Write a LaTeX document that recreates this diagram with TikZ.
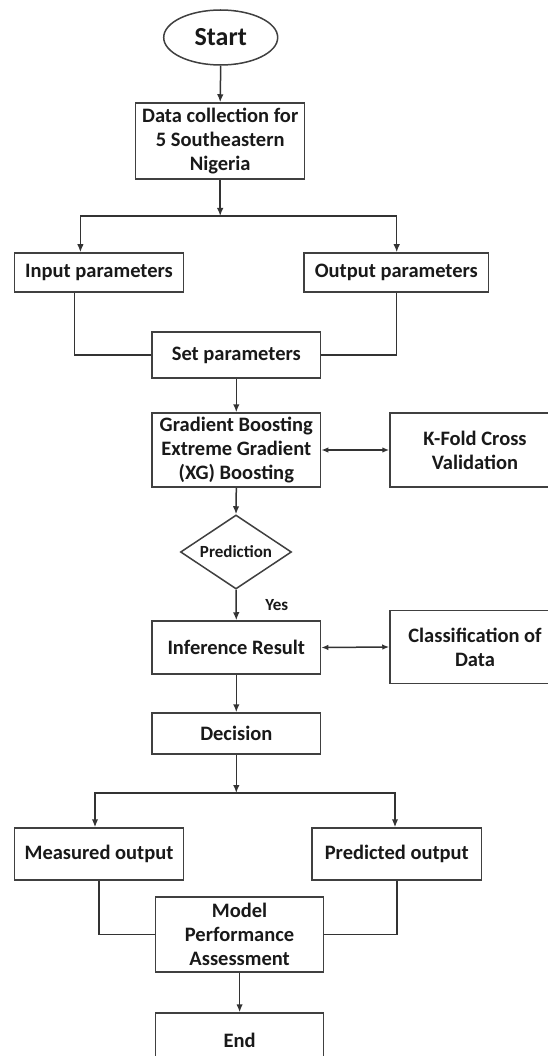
\documentclass[tikz,border=0pt]{standalone}
\usepackage{fontspec}
\setmainfont{Carlito}
\usetikzlibrary{shapes.geometric,arrows.meta}
\begin{document}
\begin{tikzpicture}[x=1pt,y=-1pt,
  box/.style={draw=black!75,line width=1.5pt,rectangle,inner sep=2pt,align=center,
    font=\fontsize{20.5}{23.8}\selectfont\bfseries,text=black!90},
  ellbox/.style={box,ellipse,font=\fontsize{26}{30}\selectfont\bfseries},
  decbox/.style={draw=black!75,line width=1.5pt,diamond,inner sep=0pt,shape aspect=1.5,
    font=\fontsize{17}{20}\selectfont\bfseries,text=black!90},
  link/.style={draw=black!80,line width=1.5pt},
  arr/.style={link,-{Latex[length=8pt,width=6.5pt]}},
  twoway/.style={link,{Latex[length=7pt,width=5.5pt]}-{Latex[length=7pt,width=5.5pt]}},
  lbl/.style={font=\fontsize{17}{20}\selectfont\bfseries,text=black!90}
]
\useasboundingbox (0,0) rectangle (548,1056);
\clip (0,0) rectangle (548,1056);
\fill[white] (0,0) rectangle (548,1056);

% upper part: start, data collection and parameter split
\node[ellbox,minimum width=114pt,minimum height=55pt] (start) at (220.7,37.5) {Start};
\node[box,minimum width=169pt,minimum height=76pt] (data) at (220.2,141)
  {Data collection for\\5 Southeastern\\Nigeria};
\node[box,minimum width=169pt,minimum height=39pt] (inp) at (99,272.5) {Input parameters};
\node[box,minimum width=184.6pt,minimum height=39pt] (outp) at (396.3,272.5) {Output parameters};
\node[box,minimum width=168.5pt,minimum height=46pt] (setp) at (236.3,355) {Set parameters};

% model training and validation
\node[box,minimum width=168.5pt,minimum height=74pt] (gb) at (236.3,450)
  {Gradient Boosting\\Extreme Gradient\\(XG) Boosting};
\node[box,minimum width=170pt,minimum height=74pt] (kfold) at (475,450) {K-Fold Cross\\Validation};
\node[decbox,minimum width=111pt,minimum height=74pt] (pred) at (236,552) {Prediction};
\node[lbl] (yes) at (276.7,605) {Yes};
\node[box,minimum width=168.5pt,minimum height=53pt] (inf) at (236.3,647.5) {Inference Result};
\node[box,minimum width=170pt,minimum height=73pt] (cls) at (475,647) {Classification of\\Data};
\node[box,minimum width=168.5pt,minimum height=41pt] (dec) at (236.3,733.5) {Decision};

% evaluation part
\node[box,minimum width=169pt,minimum height=52pt] (meas) at (99,854) {Measured output};
\node[box,minimum width=169.6pt,minimum height=52pt] (predo) at (396.8,854) {Predicted output};
\node[box,minimum width=168.2pt,minimum height=75pt] (mpa) at (239.6,934.5)
  {Model\\Performance\\Assessment};
\node[box,minimum width=168.2pt,minimum height=54pt] (finish) at (239.6,1040) {End};

% junction points
\coordinate (br1) at (220.2,216);
\coordinate (br2) at (236.3,793);

% connectors
\draw[arr] (start.south) -- (data.north);
\draw[arr] (data.south) -- (br1);
\draw[arr] (br1) -| ([xshift=-18.6pt]inp.north);
\draw[arr] (br1) -| ([xshift=0.4pt]outp.north);
\draw[link] ([xshift=-24.6pt]inp.south) |- (setp.west);
\draw[link] ([xshift=0.4pt]outp.south) |- (setp.east);
\draw[arr] (setp.south) -- (gb.north);
\draw[twoway] (gb.east) -- (kfold.west);
\draw[arr] (gb.south) -- (pred.north);
\draw[arr] (pred.south) -- (inf.north);
\draw[twoway] (inf.east) -- (cls.west);
\draw[arr] (inf.south) -- (dec.north);
\draw[arr] (dec.south) -- (br2);
\draw[arr] (br2) -| ([xshift=-4pt]meas.north);
\draw[arr] (br2) -| ([xshift=-1.8pt]predo.north);
\draw[link] (meas.south) |- (mpa.west);
\draw[link] (predo.south) |- (mpa.east);
\draw[arr] (mpa.south) -- (finish.north);
\end{tikzpicture}
\end{document}
